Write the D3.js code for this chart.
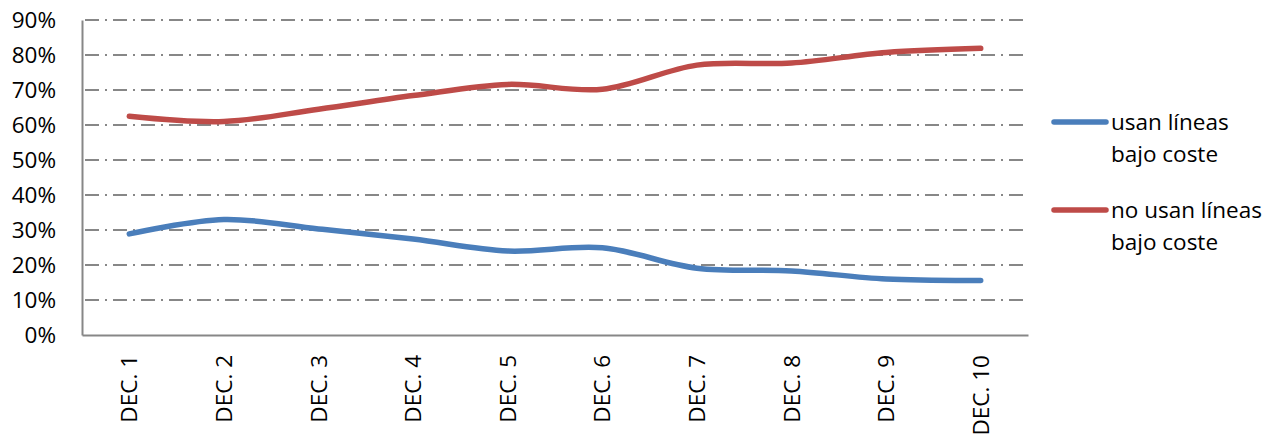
<!DOCTYPE html>
<html>
<head>
<meta charset="utf-8">
<script src="https://cdn.jsdelivr.net/npm/d3@7"></script>
<style>
  body { margin: 0; background: #fff; }
  text { font-family: "Open Sans", sans-serif; fill: #000; }
</style>
</head>
<body>
<div id="chart"></div>
<script>
// Chart data
const categories = ["DEC. 1", "DEC. 2", "DEC. 3", "DEC. 4", "DEC. 5", "DEC. 6", "DEC. 7", "DEC. 8", "DEC. 9", "DEC. 10"];
const usanValues = [28.9, 33.0, 30.3, 27.4, 24.0, 24.9, 19.1, 18.3, 16.0, 15.6];
const noUsanValues = [62.5, 61.0, 64.5, 68.4, 71.6, 70.2, 77.1, 77.7, 80.7, 81.9];
const yTicks = [0, 10, 20, 30, 40, 50, 60, 70, 80, 90];
const seriesNames = [["usan líneas", "bajo coste"], ["no usan líneas", "bajo coste"]];
const seriesColors = ["#4A7EBB", "#BE4B48"];

const width = 1282;
const height = 438;
const plot = { left: 82, right: 1028, top: 20, bottom: 335 };
const fontSize = 22.5;

let svg = d3.select("#chart")
  .append("svg")
  .attr("width", width)
  .attr("height", height);

let x = d3.scaleBand()
  .domain(categories)
  .range([plot.left, plot.right]);

let y = d3.scaleLinear()
  .domain([0, 90])
  .range([plot.bottom, plot.top]);

// Gridlines (dash-dot)
svg.append("g")
  .selectAll("line")
  .data(yTicks.filter(t => t > 0))
  .enter()
    .append("line")
    .attr("x1", plot.left)
    .attr("x2", plot.right)
    .attr("y1", d => y(d))
    .attr("y2", d => y(d))
    .attr("stroke", "#878787")
    .attr("stroke-width", 2)
    .attr("stroke-dasharray", "14,6,2,6")
    .attr("stroke-dashoffset", -3);

// Y axis
let yAxis = d3.axisLeft(y)
  .tickValues(yTicks)
  .tickSize(0)
  .tickPadding(26)
  .tickFormat(d => d + "%");

svg.append("g")
  .attr("transform", "translate(" + plot.left + ",0)")
  .call(yAxis)
  .call(g => g.select(".domain").attr("stroke", "#878787").attr("stroke-width", 2))
  .call(g => g.selectAll("text")
    .style("font-family", "Open Sans")
    .attr("font-size", fontSize)
    .attr("fill", "#000"));

// X axis
let xAxis = d3.axisBottom(x).tickSize(0).tickPadding(0);
svg.append("g")
  .attr("transform", "translate(0," + plot.bottom + ")")
  .call(xAxis)
  .call(g => g.select(".domain").attr("stroke", "#878787").attr("stroke-width", 2))
  .call(g => g.selectAll("text")
    .style("font-family", "Open Sans")
    .attr("font-size", fontSize)
    .attr("fill", "#000")
    .attr("text-anchor", "end")
    .attr("dy", null)
    .attr("transform", "translate(8,20) rotate(-90)"));

// Series lines
let line = d3.line()
  .x((d, i) => x(categories[i]) + x.bandwidth() / 2)
  .y(d => y(d))
  .curve(d3.curveCatmullRom.alpha(0.5));

[usanValues, noUsanValues].forEach((values, i) => {
  svg.append("path")
    .datum(values)
    .attr("d", line)
    .attr("fill", "none")
    .attr("stroke", seriesColors[i])
    .attr("stroke-width", 5.5)
    .attr("stroke-linecap", "round")
    .attr("stroke-linejoin", "round");
});

// Legend
let legendY = [122, 210];
let legend = svg.append("g").attr("class", "legend");
seriesNames.forEach((lines, i) => {
  legend.append("line")
    .attr("x1", 1054)
    .attr("x2", 1106)
    .attr("y1", legendY[i])
    .attr("y2", legendY[i])
    .attr("stroke", seriesColors[i])
    .attr("stroke-width", 5.5)
    .attr("stroke-linecap", "round");
  legend.append("text")
    .attr("x", 1111)
    .attr("y", legendY[i] + 8)
    .attr("font-size", fontSize)
    .selectAll("tspan")
    .data(lines)
    .enter()
      .append("tspan")
      .attr("x", 1111)
      .attr("dy", (d, j) => j === 0 ? 0 : 32)
      .text(d => d);
});
</script>
</body>
</html>
